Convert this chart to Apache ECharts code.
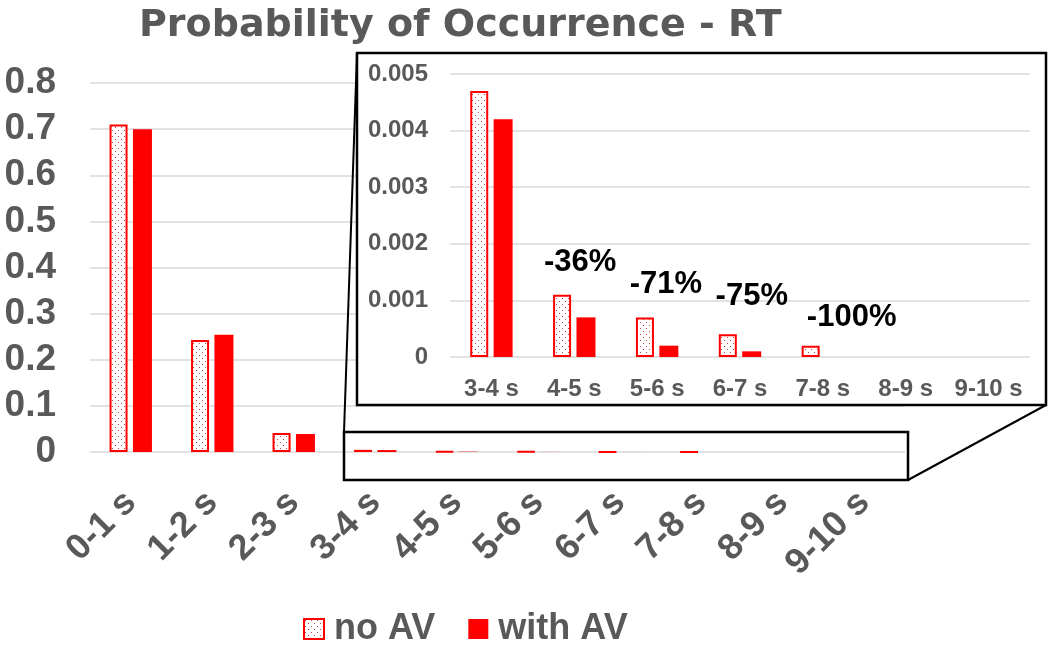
<!DOCTYPE html>
<html>
<head>
<meta charset="utf-8">
<script src="https://cdn.jsdelivr.net/npm/echarts@6/dist/echarts.min.js"></script>
<style>
  html, body { margin: 0; padding: 0; background: #fff; }
  #chart { width: 1050px; height: 657px; }
</style>
</head>
<body>
<div id="chart"></div>
<script>
// data
const categories = ["0-1 s", "1-2 s", "2-3 s", "3-4 s", "4-5 s", "5-6 s", "6-7 s", "7-8 s", "8-9 s", "9-10 s"];
const noAV = [0.71, 0.243, 0.041, 0.0047, 0.0011, 0.0007, 0.0004, 0.0002, 0, 0];
const withAV = [0.70, 0.254, 0.039, 0.0042, 0.0007, 0.0002, 0.0001, 0, 0, 0];
// the inset zooms into 3-4 s and beyond
const insetStart = 3;
const insetCategories = categories.slice(insetStart);
const changeLabels = ["", "-36%", "-71%", "-75%", "-100%", "", ""];

const GRAY = "#595959";
const RED = "#ff0000";

// layout of the two plots
const main = { left: 90, top: 83, right: 145, bottom: 205 };
const inset = { left: 450, top: 74, right: 20, bottom: 300 };
const insetBox = { x: 357, y: 53, w: 689, h: 352 };
const zoomBox = { x: 344, y: 432, w: 564, h: 48 };
// small nudges for the % notes (hand placed in the original)
const noteNudge = [[0, 0], [4, -6], [7, -6], [10, -11], [27, -2], [0, 0], [0, 0]];

function dotPattern() {
    const c = document.createElement("canvas");
    c.width = 6;
    c.height = 6;
    const ctx = c.getContext("2d");
    ctx.fillStyle = "#fff";
    ctx.fillRect(0, 0, 6, 6);
    ctx.fillStyle = "#c8404a";
    ctx.fillRect(1, 1, 1, 1);
    ctx.fillRect(4, 4, 1, 1);
    return c;
}
const pattern = { image: dotPattern(), repeat: "repeat" };
const noAvStyle = { color: pattern, borderColor: RED, borderWidth: 2 };
const withAvStyle = { color: RED };

const noZero = (v) => (v === 0 ? "-" : v);

const chart = echarts.init(document.getElementById("chart"));

const option = {
    backgroundColor: "#fff",
    animation: false,
    title: {
        text: "Probability of Occurrence - RT",
        left: 134,
        top: 2,
        textStyle: {
            fontFamily: "DejaVu Sans",
            fontWeight: "bold",
            fontSize: 38,
            color: GRAY,
        },
    },
    legend: {
        left: 298,
        top: 606,
        itemWidth: 20,
        itemHeight: 20,
        itemGap: 33,
        icon: "rect",
        textStyle: {
            fontFamily: "Liberation Sans",
            fontWeight: "bold",
            fontSize: 36,
            color: GRAY,
            padding: [0, 0, 0, 5],
        },
        data: [
            { name: "no AV", itemStyle: noAvStyle },
            { name: "with AV", itemStyle: withAvStyle },
        ],
    },
    grid: [
        { ...main, containLabel: false },
        { ...inset, containLabel: false },
    ],
    xAxis: [
        {
            type: "category",
            gridIndex: 0,
            data: categories,
            axisLine: { show: false },
            axisTick: { show: false },
            axisLabel: {
                interval: 0,
                rotate: 45,
                margin: 45,
                fontFamily: "Liberation Sans",
                fontWeight: "bold",
                fontSize: 36,
                color: GRAY,
            },
        },
        {
            type: "category",
            gridIndex: 1,
            data: insetCategories,
            z: 10,
            axisLine: { show: false },
            axisTick: { show: false },
            axisLabel: {
                interval: 0,
                margin: 20,
                fontFamily: "Liberation Sans",
                fontWeight: "bold",
                fontSize: 24,
                color: GRAY,
            },
        },
    ],
    yAxis: [
        {
            type: "value",
            gridIndex: 0,
            min: 0,
            max: 0.8,
            interval: 0.1,
            axisLine: { show: false },
            axisTick: { show: false },
            splitLine: { lineStyle: { color: "#d9d9d9", width: 1.5 } },
            axisLabel: {
                margin: 34,
                fontFamily: "Liberation Sans",
                fontWeight: "bold",
                fontSize: 37,
                color: GRAY,
            },
        },
        {
            type: "value",
            gridIndex: 1,
            min: 0,
            max: 0.005,
            interval: 0.001,
            z: 10,
            axisLine: { show: false },
            axisTick: { show: false },
            splitLine: { lineStyle: { color: "#d9d9d9", width: 1.5 } },
            axisLabel: {
                margin: 22,
                fontFamily: "Liberation Sans",
                fontWeight: "bold",
                fontSize: 24,
                color: GRAY,
            },
        },
    ],
    series: [
        {
            name: "no AV",
            type: "bar",
            xAxisIndex: 0,
            yAxisIndex: 0,
            barWidth: 18,
            barGap: "30%",
            itemStyle: noAvStyle,
            data: noAV.map(noZero),
        },
        {
            name: "with AV",
            type: "bar",
            xAxisIndex: 0,
            yAxisIndex: 0,
            barWidth: 19,
            itemStyle: withAvStyle,
            data: withAV.map(noZero),
        },
        {
            name: "no AV",
            type: "bar",
            xAxisIndex: 1,
            yAxisIndex: 1,
            z: 11,
            barWidth: 18,
            barGap: "30%",
            itemStyle: noAvStyle,
            data: noAV.slice(insetStart).map((v, i) => ({
                value: noZero(v),
                label: {
                    show: changeLabels[i] !== "",
                    position: "top",
                    offset: [14 + noteNudge[i][0], -6 + noteNudge[i][1]],
                    formatter: changeLabels[i],
                    fontFamily: "Liberation Sans",
                    fontWeight: "bold",
                    fontSize: 31,
                    color: "#000",
                },
            })),
        },
        {
            name: "with AV",
            type: "bar",
            xAxisIndex: 1,
            yAxisIndex: 1,
            z: 11,
            barWidth: 19,
            itemStyle: withAvStyle,
            data: withAV.slice(insetStart).map(noZero),
        },
    ],
    graphic: [
        {
            type: "rect",
            z: 5,
            shape: { x: insetBox.x, y: insetBox.y, width: insetBox.w, height: insetBox.h },
            style: { fill: "#fff", stroke: "#000", lineWidth: 2.5 },
        },
        {
            type: "rect",
            z: 5,
            shape: { x: zoomBox.x, y: zoomBox.y, width: zoomBox.w, height: zoomBox.h },
            style: { fill: null, stroke: "#000", lineWidth: 2.5 },
        },
        {
            type: "line",
            z: 5,
            shape: { x1: insetBox.x, y1: insetBox.y, x2: zoomBox.x, y2: zoomBox.y },
            style: { stroke: "#000", lineWidth: 2 },
        },
        {
            type: "line",
            z: 5,
            shape: {
                x1: insetBox.x + insetBox.w,
                y1: insetBox.y + insetBox.h,
                x2: zoomBox.x + zoomBox.w,
                y2: zoomBox.y + zoomBox.h,
            },
            style: { stroke: "#000", lineWidth: 2 },
        },
    ],
};

chart.setOption(option);
window.addEventListener("resize", () => chart.resize());
</script>
</body>
</html>
